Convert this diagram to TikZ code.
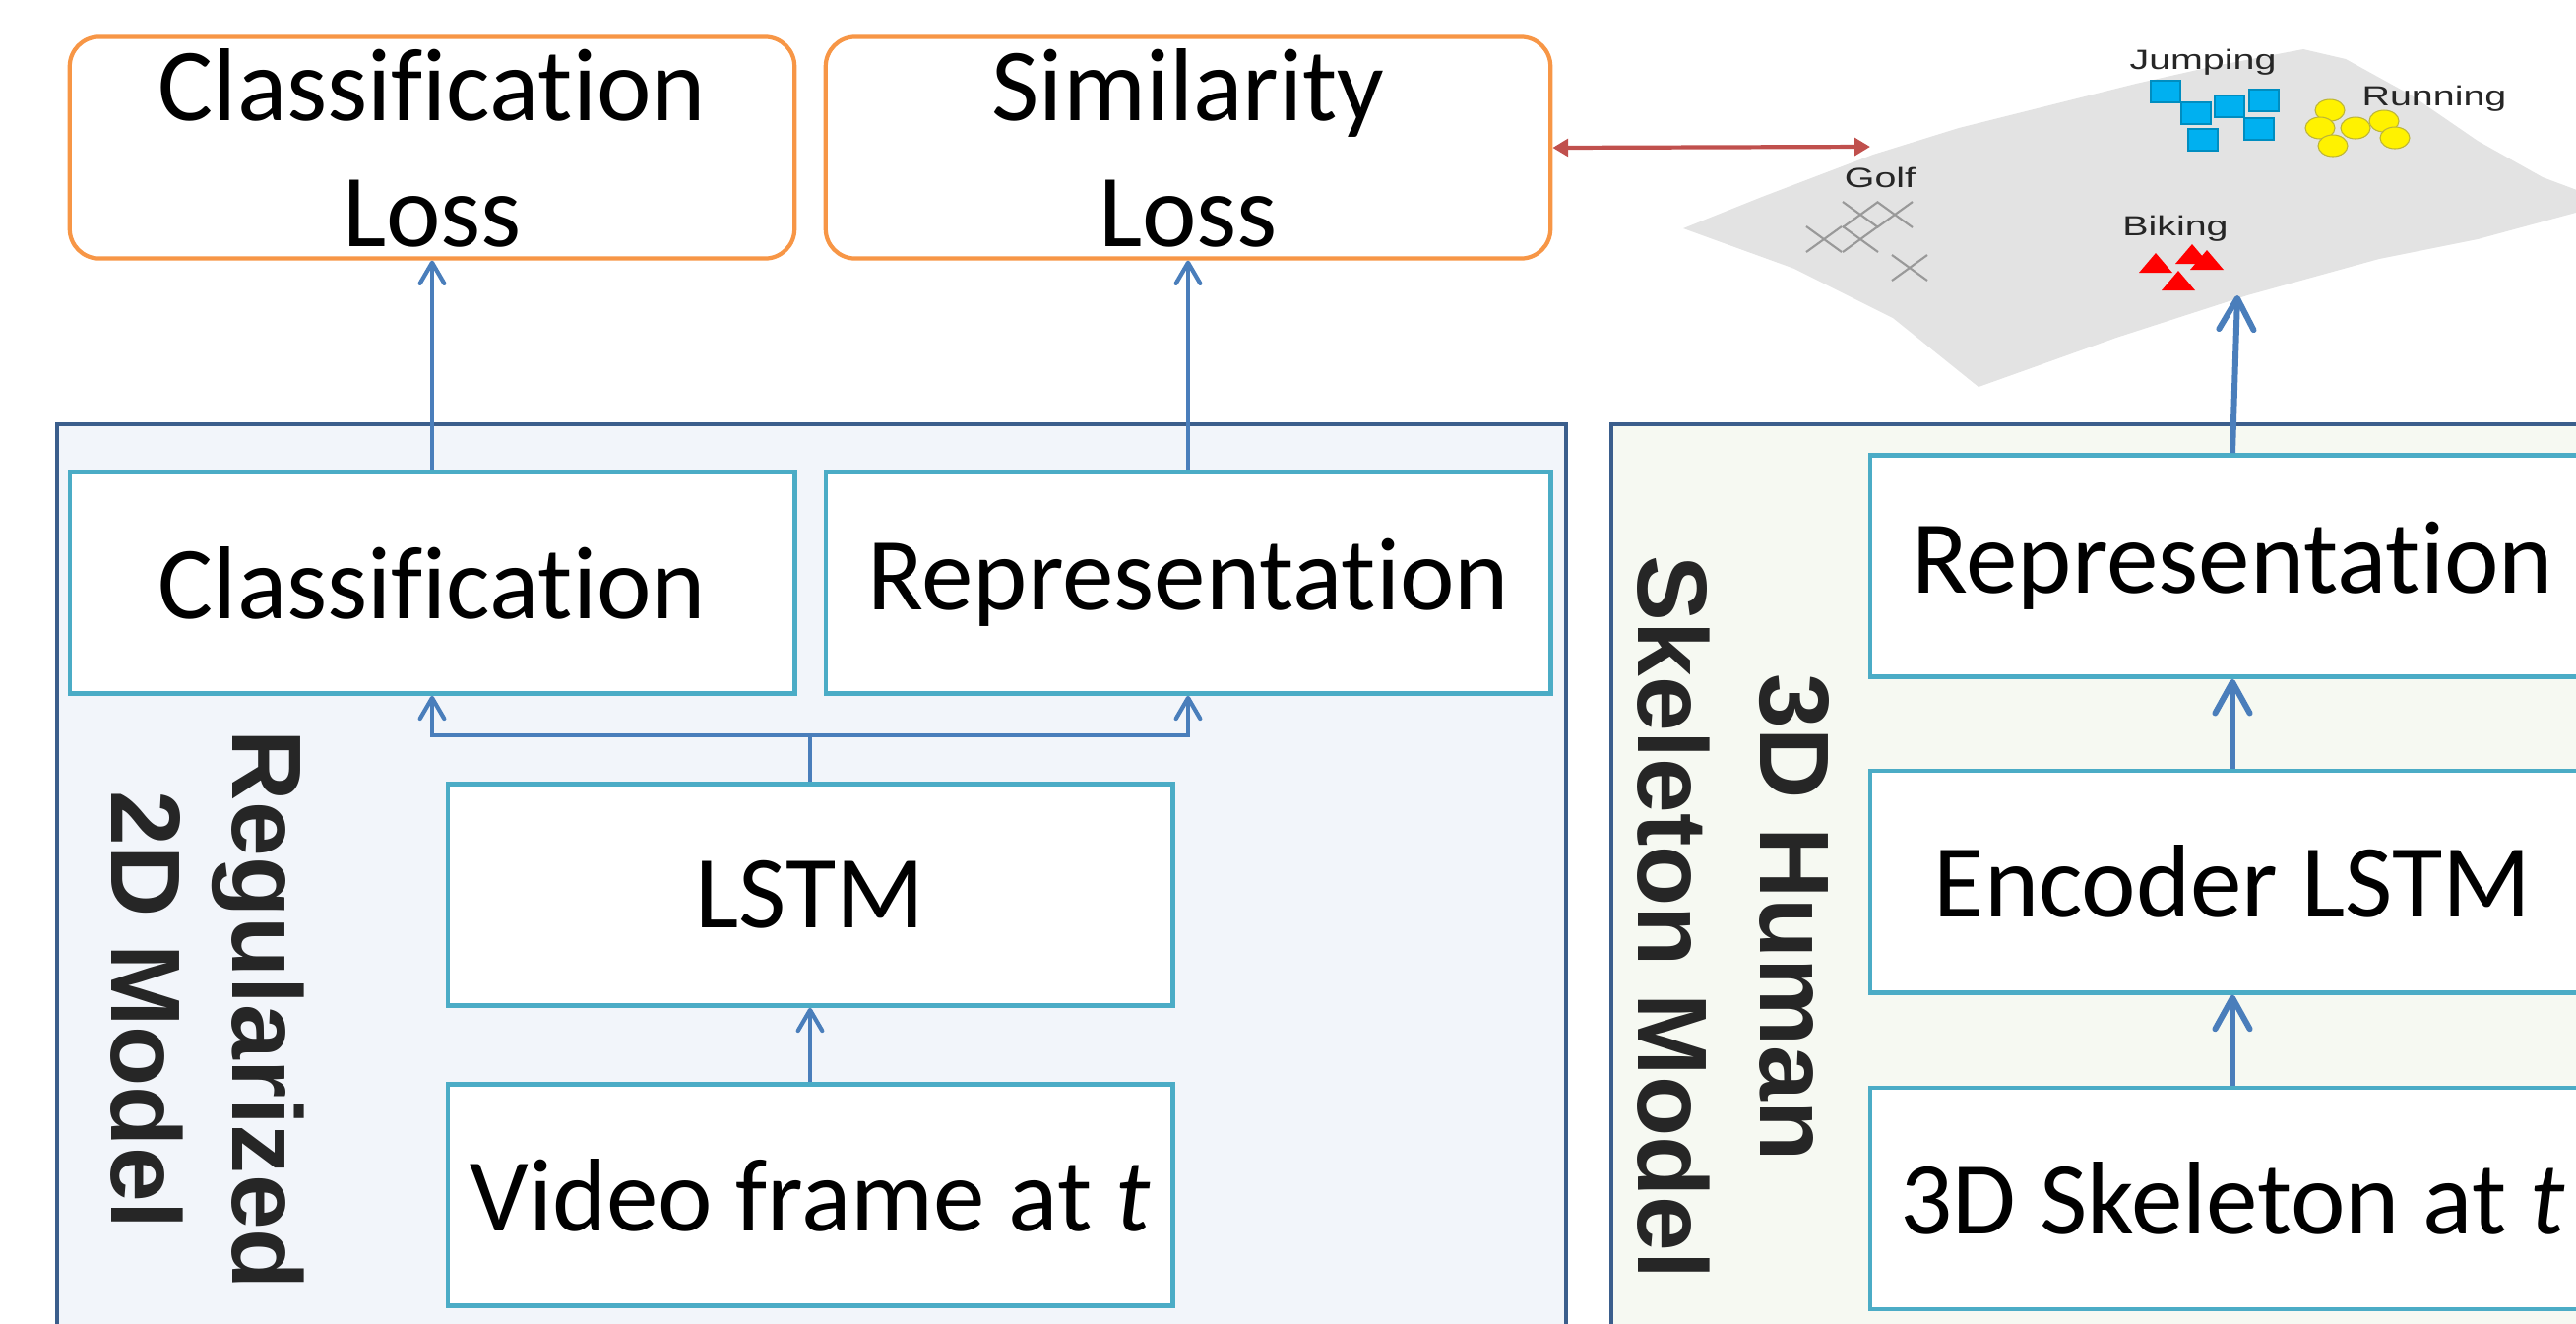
\documentclass[tikz,border=0pt]{standalone}
\usepackage{fontspec}
\setmainfont[Ligatures=NoCommon]{Carlito}
\newfontfamily\labelfont{Liberation Sans}
\newfontfamily\plotfont[FakeStretch=1.4]{Liberation Sans}
\usepackage{tikz}
\usetikzlibrary{arrows.meta, positioning}
\definecolor{lossorange}{HTML}{F79646}
\definecolor{unitcyan}{HTML}{4BACC6}
\definecolor{panelblue}{HTML}{3B5E8C}
\definecolor{flowblue}{HTML}{4A7EBB}
\definecolor{simred}{HTML}{C0504D}
\definecolor{leftfill}{HTML}{F2F5FA}
\definecolor{rightfill}{HTML}{F6F9F2}
\definecolor{labelgray}{HTML}{262626}
\definecolor{jumpblue}{HTML}{00B0F0}
\newcommand\boxfont{\fontsize{29.9}{36.4}\selectfont}
\newcommand\modelfont{\labelfont\bfseries\fontsize{28.5}{35}\selectfont}
\tikzset{
	pixels/.style={x=0.01cm,y=-0.01cm},
	loss/.style={
		rectangle, rounded corners=0.3cm,
		draw=lossorange, line width=1.2pt, fill=white,
		minimum width=7.36cm, minimum height=2.25cm,
		inner sep=0pt, align=center, font=\boxfont
	},
	unit/.style={
		rectangle,
		draw=unitcyan, line width=1.3pt, fill=white,
		minimum width=7.36cm, minimum height=2.25cm,
		inner sep=0pt, align=center, font=\boxfont
	},
	panel/.style={draw=panelblue, line width=1.2pt},
	model/.style={rotate=-90, align=center, inner sep=0pt, text=labelgray, font=\modelfont},
	flow/.style={draw=flowblue, line width=1.2pt, -{Straight Barb[round,length=6pt,width=7pt]}},
	flow thick/.style={draw=flowblue, line width=1.7pt, -{Straight Barb[round,length=9pt,width=10pt]}},
	link/.style={draw=simred, line width=1.2pt, {Triangle[length=4.5pt,width=5pt]}-{Triangle[length=4.5pt,width=5pt]}},
	tag/.style={inner sep=0pt, text=black!85, font=\plotfont\fontsize{8}{9}\selectfont}
}

\begin{document}
\begin{tikzpicture}[pixels]

	\useasboundingbox (0,0) rectangle (2617,1344);
	\clip (0,0) rectangle (2617,1344);

	%% the two model panels
	\filldraw[panel, fill=leftfill]		(58,431) rectangle (1591,1370);
	\filldraw[panel, fill=rightfill]	(1637,431) rectangle (2650,1370);

	%% losses
	\node[loss] (clsloss)	at (439,150)	{Classification\\Loss};
	\node[loss] (simloss)	at (1207,150)	{Similarity\\Loss};

	%% regularized 2D model
	\node[unit] (cls)		at (439,592)	{Classification};
	\node[unit] (rep)		at (1207,592)	{Representation};
	\node[unit] (lstm)		at (823,909)	{LSTM};
	\node[unit] (video)		at (823,1214)	{Video frame at {\itshape t}};
	\node[model] (regname)	at (211,1026)	{Regularized\\2D Model};

	%% 3D skeleton model
	\node[unit] (rep3d)		at (2268,575)	{Representation};
	\node[unit, below=0.91cm of rep3d] (enc)	{Encoder LSTM};
	\node[unit, below=0.92cm of enc] (skel)		{3D Skeleton at {\itshape t}};
	\node[model] (skelname)	at (1761,932)	{3D Human\\Skeleton Model};

	%% embedding space
	\fill[black!11] (1710,232) -- (1790,200) -- (1903,157) -- (1990,130) -- (2170,85)
		-- (2250,67) -- (2340,50) -- (2383,60) -- (2450,97) -- (2517,143) -- (2583,180)
		-- (2650,205) -- (2650,207) -- (2517,243) -- (2417,263) -- (2283,300)
		-- (2150,343) -- (2010,393) -- (1923,323) -- (1823,273) -- cycle;

	\foreach \cx/\cy in {1890/218,1925/218,1853/243,1890/243,1940/272}
	{
		\draw[black!40, line width=0.6pt] (\cx-18,\cy-13) -- (\cx+18,\cy+13)
			(\cx-18,\cy+13) -- (\cx+18,\cy-13);
	}
	\foreach \cx/\cy in {2200/93,2231/115,2265/108,2300/102,2295/131,2238/142}
	{
		\filldraw[fill=jumpblue, draw=jumpblue!80!black, line width=0.3pt]
			(\cx-15,\cy-11) rectangle (\cx+15,\cy+11);
	}
	\foreach \cx/\cy in {2367/112,2357/130,2370/148,2393/130,2422/123,2433/140}
	{
		\filldraw[fill=yellow, draw=yellow!70!black, line width=0.3pt]
			(\cx,\cy) ellipse [x radius=15, y radius=11];
	}
	\foreach \ax/\ay in {2190/257,2227/248,2242/254,2213/275}
	{
		\fill[red] (\ax,\ay) -- (\ax-17,\ay+20) -- (\ax+17,\ay+20) -- cycle;
	}

	\node[tag] (golf)		at (1910,180)	{Golf};
	\node[tag] (jumping)	at (2238,63)	{Jumping};
	\node[tag] (running)	at (2473,100)	{Running};
	\node[tag] (biking)		at (2210,232)	{Biking};

	\coordinate (embed)	at (1900,149);
	\coordinate (hit)	at (2273,300);

	%% connections
	\draw[flow]	(cls.north) -- (clsloss.south);
	\draw[flow]	(rep.north) -- (simloss.south);
	\draw[flow]	(video.north) -- (lstm.south);
	\draw[flow,-]	(lstm.north) -- ++(0,-47) coordinate (split);
	\draw[flow]	(split) -| (cls.south);
	\draw[flow]	(split) -| (rep.south);

	\draw[flow thick]	(skel.north) -- (enc.south);
	\draw[flow thick]	(enc.north) -- (rep3d.south);
	\draw[flow thick]	(rep3d.north) -- (hit);

	\draw[link]	(simloss.east) -- (embed);

\end{tikzpicture}
\end{document}
